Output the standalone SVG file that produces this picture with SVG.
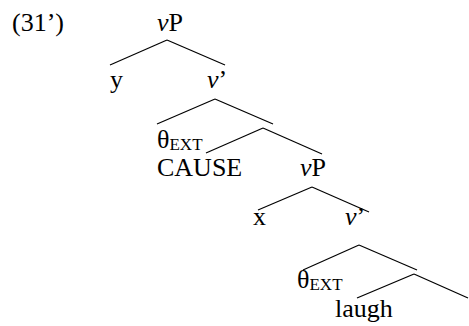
<svg xmlns="http://www.w3.org/2000/svg" width="469" height="326" viewBox="0 0 469 326">
<style>
text{font-family:"Liberation Serif","Times New Roman",serif;font-size:26px;fill:#000}
.i{font-style:italic}
.sub{font-size:17px}
line{stroke:#000;stroke-width:1.2}
</style>
<rect width="469" height="326" fill="#fff"/>
<text x="12" y="31">(31’)</text>
<g id="connectors">
<line x1="167" y1="40" x2="110" y2="65"/><line x1="167" y1="40" x2="225" y2="65"/>
<line x1="215" y1="99" x2="157" y2="124"/><line x1="215" y1="99" x2="273" y2="124"/>
<line x1="263" y1="128" x2="206" y2="153"/><line x1="263" y1="128" x2="322" y2="154"/>
<line x1="312" y1="187" x2="258" y2="210"/><line x1="312" y1="187" x2="369" y2="212"/>
<line x1="359" y1="245" x2="303" y2="270"/><line x1="359" y1="245" x2="417" y2="270"/>
<line x1="414" y1="274" x2="357" y2="298"/><line x1="414" y1="274" x2="468" y2="298"/>
</g>
<g id="vP1"><text x="157" y="31"><tspan class="i">v</tspan>P</text></g>
<g id="y"><text x="110" y="88">y</text></g>
<g id="vbar1"><text x="207" y="88"><tspan class="i">v</tspan>’</text></g>
<g id="theta1"><text x="157" y="148">θ<tspan class="sub" dy="2">EXT</tspan></text></g>
<g id="cause"><text x="157" y="176">CAUSE</text></g>
<g id="vP2"><text x="300" y="176"><tspan class="i">v</tspan>P</text></g>
<g id="x"><text x="253" y="225">x</text></g>
<g id="vbar2"><text x="345" y="225"><tspan class="i">v</tspan>’</text></g>
<g id="theta2"><text x="297" y="288">θ<tspan class="sub" dy="2">EXT</tspan></text></g>
<g id="laugh"><text x="335" y="317">laugh</text></g>
</svg>
